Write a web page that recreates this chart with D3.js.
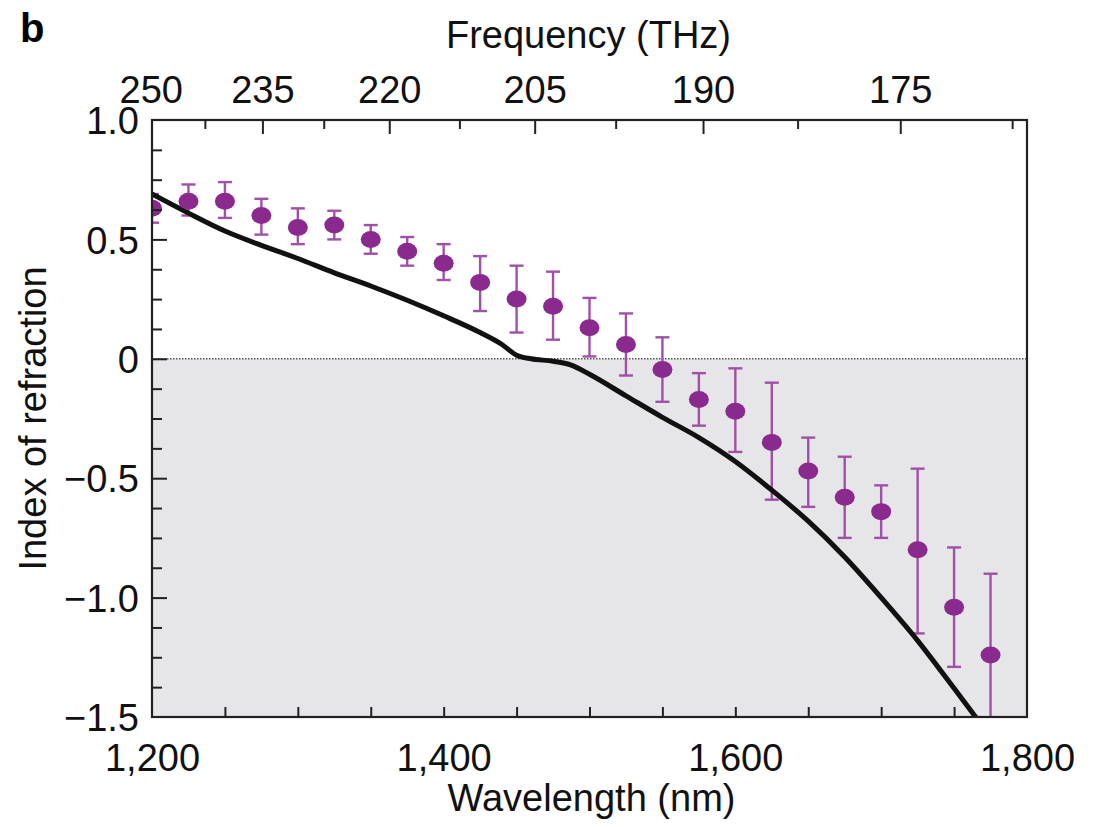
<!DOCTYPE html>
<html>
<head>
<meta charset="utf-8">
<script src="https://cdn.jsdelivr.net/npm/d3@7"></script>
<style>
  body { margin: 0; background: #fff; }
  svg { font-family: "Liberation Sans", Arial, Helvetica, sans-serif; }
</style>
</head>
<body>
<svg></svg>
<script>
// measured points (nm, index, error bar top / bottom)
const wavelengths = [1200, 1225, 1250, 1275, 1300, 1325, 1350, 1375, 1400, 1425, 1450, 1475,
	1500, 1525, 1550, 1575, 1600, 1625, 1650, 1675, 1700, 1725, 1750, 1775];
const nMeasured = [0.63, 0.66, 0.66, 0.60, 0.55, 0.56, 0.50, 0.45, 0.40, 0.32, 0.25, 0.22,
	0.13, 0.06, -0.045, -0.17, -0.22, -0.35, -0.47, -0.58, -0.64, -0.80, -1.04, -1.24];
const errTop = [0.69, 0.73, 0.74, 0.67, 0.63, 0.62, 0.56, 0.51, 0.48, 0.43, 0.39, 0.365,
	0.255, 0.19, 0.09, -0.06, -0.04, -0.10, -0.33, -0.41, -0.53, -0.46, -0.79, -0.90];
const errBottom = [0.57, 0.60, 0.59, 0.52, 0.48, 0.50, 0.44, 0.39, 0.33, 0.20, 0.11, 0.08,
	0.01, -0.07, -0.18, -0.28, -0.39, -0.59, -0.62, -0.75, -0.75, -1.15, -1.29, -1.60];

// simulated curve
const theoryWl = [1200, 1225, 1250, 1275, 1300, 1325, 1350, 1375, 1400, 1425, 1440, 1450, 1460,
	1475, 1487, 1500, 1525, 1550, 1575, 1600, 1625, 1650, 1675, 1700, 1725, 1750, 1766];
const theoryN = [0.69, 0.61, 0.535, 0.475, 0.42, 0.36, 0.305, 0.245, 0.18, 0.11, 0.06, 0.015, 0.0,
	-0.01, -0.025, -0.065, -0.155, -0.245, -0.33, -0.43, -0.55, -0.68, -0.83, -1.0, -1.18, -1.38, -1.51];

// tick labels
const wlTicks = [1200, 1400, 1600, 1800];
const freqTicks = [250, 235, 220, 205, 190, 175];
const nTicks = [1.0, 0.5, 0, -0.5, -1.0, -1.5];
const nTickLabels = ['1.0', '0.5', '0', '\u22120.5', '\u22121.0', '\u22121.5'];

const C = 299792.458; // nm * THz

const svg = d3.select('svg')
	.attr('width', 1100)
	.attr('height', 827);

const margin = { top: 120, right: 73, bottom: 110, left: 152 },
	innerWidth = 1100 - margin.left - margin.right,
	innerHeight = 827 - margin.top - margin.bottom,
	fontSize = 38;

const xScale = d3.scaleLinear().domain([1200, 1800]).range([0, innerWidth]);
const yScale = d3.scaleLinear().domain([-1.5, 1.0]).range([innerHeight, 0]);
// frequency = C / wavelength, so a power scale with exponent -1 is linear in wavelength
const fScale = d3.scalePow().exponent(-1).domain([C / 1200, C / 1800]).range([0, innerWidth]);

const g = svg.append('g')
	.attr('transform', `translate(${margin.left}, ${margin.top})`);

g.append('clipPath').attr('id', 'plot-clip')
	.append('rect').attr('width', innerWidth).attr('height', innerHeight);

// negative region shading
g.append('rect')
	.attr('x', 0)
	.attr('y', yScale(0))
	.attr('width', innerWidth)
	.attr('height', yScale(-1.5) - yScale(0))
	.attr('fill', '#e6e6e8');

g.append('line')
	.attr('x1', 0).attr('x2', innerWidth)
	.attr('y1', yScale(0)).attr('y2', yScale(0))
	.attr('stroke', '#555')
	.attr('stroke-width', 1.6)
	.attr('stroke-dasharray', '1.5,1.5');

const plot = g.append('g').attr('clip-path', 'url(#plot-clip)');

// error bars
const points = wavelengths.map((w, i) => ({ w, n: nMeasured[i], hi: errTop[i], lo: errBottom[i] }));
const barColor = '#a050a6', dotColor = '#8a2a8e', cap = 7;

const bars = plot.selectAll('.err').data(points).enter().append('g')
	.attr('class', 'err')
	.attr('stroke', barColor)
	.attr('stroke-width', 2.4);
bars.append('line')
	.attr('x1', d => xScale(d.w)).attr('x2', d => xScale(d.w))
	.attr('y1', d => yScale(d.hi)).attr('y2', d => yScale(d.lo));
bars.append('line')
	.attr('x1', d => xScale(d.w) - cap).attr('x2', d => xScale(d.w) + cap)
	.attr('y1', d => yScale(d.hi)).attr('y2', d => yScale(d.hi));
bars.append('line')
	.attr('x1', d => xScale(d.w) - cap).attr('x2', d => xScale(d.w) + cap)
	.attr('y1', d => yScale(d.lo)).attr('y2', d => yScale(d.lo));

// theory line
const lineGenerator = d3.line()
	.x(d => xScale(d[0]))
	.y(d => yScale(d[1]))
	.curve(d3.curveMonotoneX);

plot.append('path')
	.attr('fill', 'none')
	.attr('stroke', '#111')
	.attr('stroke-width', 5)
	.attr('d', lineGenerator(theoryWl.map((w, i) => [w, theoryN[i]])));

plot.selectAll('.dot').data(points).enter().append('ellipse')
	.attr('class', 'dot')
	.attr('cx', d => xScale(d.w))
	.attr('cy', d => yScale(d.n))
	.attr('rx', 10)
	.attr('ry', 8.5)
	.attr('fill', dotColor);

// axes
const styleAxis = sel => {
	sel.select('.domain').remove();
	sel.selectAll('line').attr('stroke', '#222').attr('stroke-width', 2);
	sel.selectAll('text').attr('font-size', fontSize).attr('fill', '#111')
		.attr('font-family', '"Liberation Sans", Arial, sans-serif');
};
const tickOnly = sel => {
	sel.call(styleAxis);
	sel.selectAll('text').remove();
};

// bottom: minor ticks every 50 nm
g.append('g')
	.attr('transform', `translate(0, ${innerHeight})`)
	.call(d3.axisBottom(xScale).tickValues(d3.range(1250, 1800, 50)).tickSize(-10))
	.call(tickOnly);
g.append('g')
	.attr('transform', `translate(0, ${innerHeight})`)
	.call(d3.axisBottom(xScale).tickValues(wlTicks).tickSize(0).tickFormat(d3.format(',')))
	.call(styleAxis)
	.call(a => a.selectAll('text').attr('y', 54).attr('dy', 0));

// top: frequency
g.append('g')
	.call(d3.axisTop(fScale).tickValues(d3.range(242.5, 165, -15)).tickSize(-9))
	.call(tickOnly);
g.append('g')
	.call(d3.axisTop(fScale).tickValues(freqTicks.filter(f => f !== 250)).tickSize(-14))
	.call(tickOnly);
g.append('g')
	.call(d3.axisTop(fScale).tickValues(freqTicks).tickSize(0).tickFormat(d3.format('d')))
	.call(styleAxis)
	.call(a => a.selectAll('text').attr('y', -17).attr('dy', 0));

// left: minor every 0.125
g.append('g')
	.call(d3.axisLeft(yScale).tickValues(d3.range(-1.375, 1.0, 0.125).filter(v => Math.abs(v * 2 - Math.round(v * 2)) > 1e-6))
		.tickSize(-10))
	.call(tickOnly);
g.append('g')
	.call(d3.axisLeft(yScale).tickValues(nTicks.slice(1, 5)).tickSize(-15))
	.call(tickOnly);
g.append('g')
	.call(d3.axisLeft(yScale).tickValues(nTicks).tickSize(0).tickFormat((d, i) => nTickLabels[i]))
	.call(styleAxis)
	.call(a => a.selectAll('text').attr('x', -13).attr('dy', '0.36em'));

// frame
g.append('rect')
	.attr('width', innerWidth)
	.attr('height', innerHeight)
	.attr('fill', 'none')
	.attr('stroke', '#222')
	.attr('stroke-width', 2.2);

// labels
svg.append('text')
	.attr('x', 20).attr('y', 42)
	.attr('font-size', 40).attr('font-weight', 'bold')
	.text('b');

svg.append('text')
	.attr('x', margin.left + innerWidth / 2 - 1).attr('y', 48)
	.attr('text-anchor', 'middle')
	.attr('font-size', fontSize).attr('fill', '#111')
	.text('Frequency (THz)');

svg.append('text')
	.attr('x', margin.left + innerWidth / 2 + 2).attr('y', 811)
	.attr('text-anchor', 'middle')
	.attr('font-size', fontSize).attr('fill', '#111')
	.text('Wavelength (nm)');

svg.append('text')
	.attr('transform', `translate(46, ${margin.top + innerHeight / 2}) rotate(-90)`)
	.attr('text-anchor', 'middle')
	.attr('font-size', fontSize).attr('fill', '#111')
	.text('Index of refraction');
</script>
</body>
</html>
